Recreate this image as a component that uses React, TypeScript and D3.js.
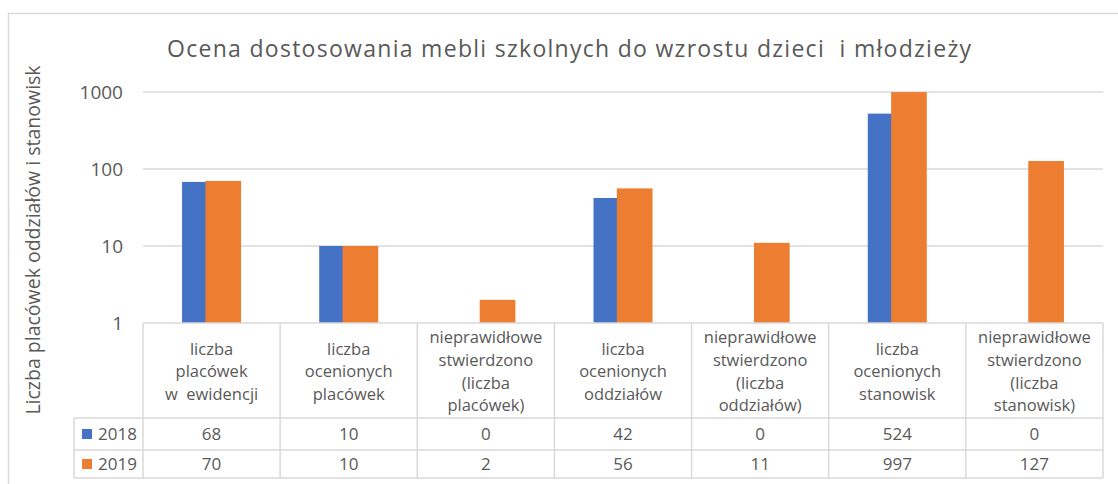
import React from "react";
import * as d3 from "d3";

const categories: string[][] = [
  ["liczba", "placówek", "w  ewidencji"],
  ["liczba", "ocenionych", "placówek"],
  ["nieprawidłowe", "stwierdzono", "(liczba", "placówek)"],
  ["liczba", "ocenionych", "oddziałów"],
  ["nieprawidłowe", "stwierdzono", "(liczba", "oddziałów)"],
  ["liczba", "ocenionych", "stanowisk"],
  ["nieprawidłowe", "stwierdzono", "(liczba", "stanowisk)"],
];
const seriesNames = ["2018", "2019"];
const values2018 = [68, 10, 0, 42, 0, 524, 0];
const values2019 = [70, 10, 2, 56, 11, 997, 127];
const yTicks = [1, 10, 100, 1000];
const title = "Ocena dostosowania mebli szkolnych do wzrostu dzieci  i młodzieży";
const yTitle = "Liczba placówek oddziałów i stanowisk";

const colors = ["#4472C4", "#ED7D31"];
const TEXT = "#595959";
const LINE = "#D9D9D9";
const FONT = "'Open Sans', 'Noto Sans', sans-serif";

export default function App() {
  const W = 1118, H = 484;
  const plotL = 143, plotR = 1103, plotT = 92, plotB = 323;
  const rowTops = [418, 450, 478];
  const legendL = 74;

  const x = d3.scaleBand<number>().domain(d3.range(categories.length)).range([plotL, plotR]).padding(0);
  const y = d3.scaleLog().domain([1, 1000]).range([plotB, plotT]);
  const bw = x.bandwidth();
  const barW = bw * 0.26;
  const step = barW * 0.655;
  const groupW = barW + step;

  const series = [values2018, values2019];
  const pre = { whiteSpace: "pre" as const };

  return (
    <svg width={W} height={H} style={{ position: "absolute", left: 0, top: 0 }} fontFamily={FONT}>
      <rect x={0} y={0} width={W} height={H} fill="#fff" />
      <rect x={8.5} y={13.5} width={W + 20} height={H + 20} fill="none" stroke={LINE} strokeWidth={1.5} />
      <text x={167} y={57} fontSize={23} fill={TEXT} style={pre} textLength={804} lengthAdjust="spacing">{title}</text>
      <text transform={`translate(40,240) rotate(-90)`} textAnchor="middle" fontSize={19.5} fill={TEXT}>{yTitle}</text>

      {yTicks.map((t) => (
        <g key={t}>
          {t > 1 && <line x1={plotL} x2={plotR} y1={y(t)} y2={y(t)} stroke={LINE} strokeWidth={1.5} />}
          <text x={123} y={y(t)} dy="0.36em" textAnchor="end" fontSize={19} fill={TEXT}>{t}</text>
        </g>
      ))}

      {series.map((vals, si) =>
        vals.map((v, i) => {
          if (v <= 0) return null;
          const cx = (x(i) as number) + bw / 2;
          const x0 = cx - groupW / 2 + si * step;
          return (
            <rect key={`${si}-${i}`} x={x0} y={y(v)} width={barW} height={plotB - y(v)} fill={colors[si]} />
          );
        })
      )}

      <g stroke={LINE} strokeWidth={1.5}>
        <line x1={plotL} x2={plotR} y1={plotB} y2={plotB} />
        {rowTops.map((ry) => (
          <line key={ry} x1={legendL} x2={plotR} y1={ry} y2={ry} />
        ))}
        <line x1={legendL} x2={legendL} y1={rowTops[0]} y2={rowTops[2]} />
        {d3.range(categories.length + 1).map((i) => {
          const xx = i === categories.length ? plotR : (x(i) as number);
          return <line key={i} x1={xx} x2={xx} y1={plotB} y2={rowTops[2]} />;
        })}
      </g>

      {categories.map((lines, i) => {
        const cx = (x(i) as number) + bw / 2;
        const lh = 22.7;
        const midY = (plotB + rowTops[0]) / 2 + 1;
        const y0 = midY - ((lines.length - 1) * lh) / 2;
        return (
          <g key={i}>
            {lines.map((l, j) => (
              <text key={j} x={cx} y={y0 + j * lh} dy="0.36em" textAnchor="middle" fontSize={16.5} fill={TEXT} style={pre}>{l}</text>
            ))}
          </g>
        );
      })}

      {series.map((vals, si) => {
        const ry = (rowTops[si] + rowTops[si + 1]) / 2;
        return (
          <g key={si}>
            <rect x={82} y={ry - 5} width={10} height={10} fill={colors[si]} />
            <text x={98} y={ry} dy="0.36em" fontSize={17} fill={TEXT}>{seriesNames[si]}</text>
            {vals.map((v, i) => (
              <text key={i} x={(x(i) as number) + bw / 2} y={ry} dy="0.36em" textAnchor="middle" fontSize={17} fill={TEXT}>{v}</text>
            ))}
          </g>
        );
      })}
    </svg>
  );
}
